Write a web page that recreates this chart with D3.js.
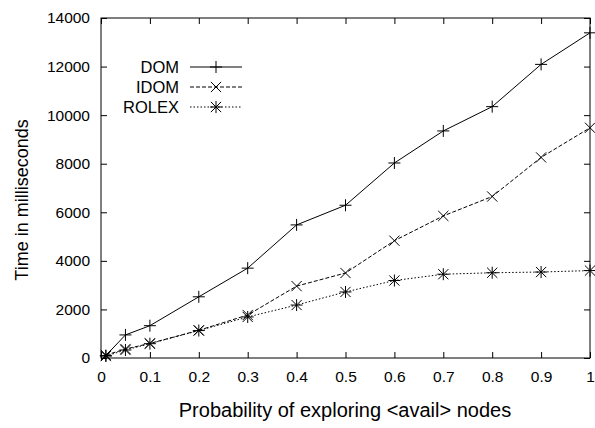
<!DOCTYPE html>
<html>
<head>
<meta charset="utf-8">
<script src="https://cdn.jsdelivr.net/npm/d3@7"></script>
<style>
  html, body { margin: 0; padding: 0; background: #fff; }
  svg { display: block; }
  text { font-family: "Liberation Sans", Arial, Helvetica, sans-serif; fill: #000; }
</style>
</head>
<body>
<svg id="chart" width="595" height="428"></svg>
<script>
const xValues = [0.01, 0.05, 0.1, 0.2, 0.3, 0.4, 0.5, 0.6, 0.7, 0.8, 0.9, 1.0];
const domValues   = [100, 950, 1330, 2520, 3700, 5480, 6290, 8030, 9350, 10350, 12090, 13390];
const idomValues  = [120, 370, 600, 1140, 1770, 2960, 3500, 4830, 5850, 6650, 8260, 9480];
const rolexValues = [80, 330, 590, 1130, 1690, 2180, 2720, 3190, 3450, 3510, 3540, 3600];
const seriesNames = ["DOM", "IDOM", "ROLEX"];
const xTicks = [0, 0.1, 0.2, 0.3, 0.4, 0.5, 0.6, 0.7, 0.8, 0.9, 1];
const xTickLabels = ["0", "0.1", "0.2", "0.3", "0.4", "0.5", "0.6", "0.7", "0.8", "0.9", "1"];
const yTicks = [0, 2000, 4000, 6000, 8000, 10000, 12000, 14000];
const yTickLabels = ["0", "2000", "4000", "6000", "8000", "10000", "12000", "14000"];
const xTitle = "Probability of exploring <avail> nodes";
const yTitle = "Time in milliseconds";

const svg = d3.select("#chart");
const L = 101, R = 590, T = 18, B = 358;
const x = d3.scaleLinear().domain([0, 1]).range([L, R]);
const y = d3.scaleLinear().domain([0, 14000]).range([B, T]);
const tickLen = 6;

const series = [
  { name: seriesNames[0], values: domValues, dash: null, marker: "plus" },
  { name: seriesNames[1], values: idomValues, dash: "4,2", marker: "cross" },
  { name: seriesNames[2], values: rolexValues, dash: "1.5,2", marker: "star" }
];

const gx = svg.append("g").attr("transform", `translate(0,${B})`)
  .call(d3.axisBottom(x).tickValues(xTicks).tickSize(-tickLen).tickPadding(13)
    .tickFormat((d, i) => xTickLabels[i]));
const gxTop = svg.append("g").attr("transform", `translate(0,${T})`)
  .call(d3.axisTop(x).tickValues(xTicks).tickSize(-tickLen).tickFormat(""));
const gy = svg.append("g").attr("transform", `translate(${L},0)`)
  .call(d3.axisLeft(y).tickValues(yTicks).tickSize(-tickLen).tickPadding(11)
    .tickFormat((d, i) => yTickLabels[i]));
const gyR = svg.append("g").attr("transform", `translate(${R},0)`)
  .call(d3.axisRight(y).tickValues(yTicks).tickSize(-tickLen).tickFormat(""));
[gx, gxTop, gy, gyR].forEach(g => {
  g.select(".domain").remove();
  g.selectAll(".tick line").attr("stroke", "#000").attr("stroke-width", 1);
  g.selectAll(".tick text").style("font-size", "15.5px")
    .style("font-family", '"Liberation Sans", Arial, sans-serif').attr("fill", "#000");
});

svg.append("rect").attr("x", L).attr("y", T).attr("width", R - L).attr("height", B - T)
  .attr("fill", "none").attr("stroke", "#000").attr("stroke-width", 1);

function drawMarker(g, type, cx, cy, s) {
  const p = d3.path();
  if (type === "plus" || type === "star") {
    p.moveTo(cx - s, cy); p.lineTo(cx + s, cy);
    p.moveTo(cx, cy - s); p.lineTo(cx, cy + s);
  }
  if (type === "cross" || type === "star") {
    const d = s * 0.85;
    p.moveTo(cx - d, cy - d); p.lineTo(cx + d, cy + d);
    p.moveTo(cx - d, cy + d); p.lineTo(cx + d, cy - d);
  }
  g.append("path").attr("d", p.toString()).attr("stroke", "#000")
    .attr("stroke-width", 1).attr("fill", "none");
}

const line = d3.line().x((d, i) => x(xValues[i])).y(d => y(d));
series.forEach(s => {
  const g = svg.append("g");
  g.append("path").datum(s.values).attr("d", line)
    .attr("fill", "none").attr("stroke", "#000").attr("stroke-width", 1)
    .attr("stroke-dasharray", s.dash);
  s.values.forEach((v, i) => drawMarker(g, s.marker, x(xValues[i]), y(v), 6));
});

const legY = [67, 87, 107];
series.forEach((s, i) => {
  const g = svg.append("g");
  g.append("text").attr("x", 179).attr("y", legY[i]).attr("dy", "0.35em")
    .attr("text-anchor", "end").style("font-size", "16.5px").text(s.name);
  g.append("line").attr("x1", 190).attr("x2", 242).attr("y1", legY[i]).attr("y2", legY[i])
    .attr("stroke", "#000").attr("stroke-width", 1).attr("stroke-dasharray", s.dash);
  drawMarker(g, s.marker, 216, legY[i], 6);
});

svg.append("text").attr("x", 345).attr("y", 410).attr("dy", "0.35em")
  .attr("text-anchor", "middle").style("font-size", "20px").text(xTitle);
svg.append("text").attr("transform", `translate(22,200) rotate(-90)`).attr("dy", "0.35em")
  .attr("text-anchor", "middle").style("font-size", "18px").text(yTitle);
</script>
</body>
</html>
